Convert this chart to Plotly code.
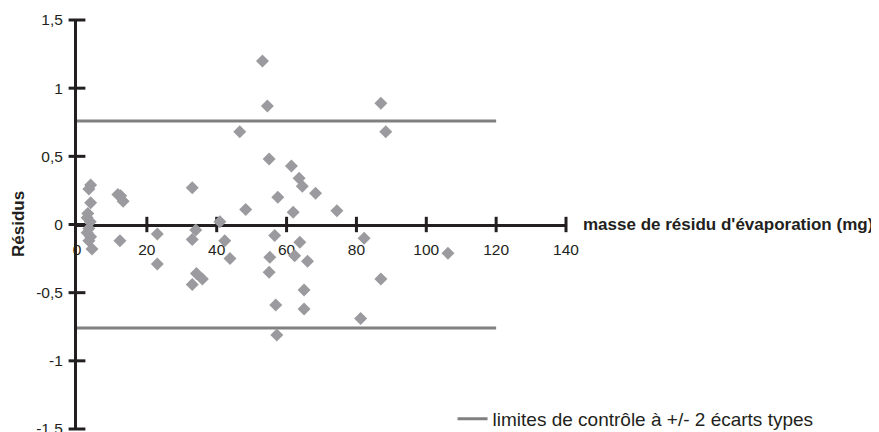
import plotly.graph_objects as go

# ---- data ----
masse = [3.9, 3.4, 3.9, 3.1, 2.9, 3.8, 3.4, 2.9, 3.9, 3.4, 4.3,
         11.7, 12.5, 13.2, 12.3,
         23.0, 23.0,
         33.0, 34.0, 33.0, 40.9, 42.3, 43.8, 34.2, 35.9, 33.0,
         46.6, 48.3,
         53.1, 54.5, 55.0, 57.5, 61.4, 63.6, 64.5, 68.3, 61.9, 74.4,
         56.6, 63.8, 55.2, 62.3, 66.0, 55.0, 65.0, 56.9, 65.0, 57.2,
         81.2, 82.2, 87.0, 87.0, 88.4, 106.2]
residus = [0.29, 0.26, 0.16, 0.08, 0.05, 0.02, -0.03, -0.06, -0.09, -0.12, -0.18,
           0.22, 0.21, 0.17, -0.12,
           -0.07, -0.29,
           0.27, -0.04, -0.11, 0.02, -0.12, -0.25, -0.36, -0.40, -0.44,
           0.68, 0.11,
           1.20, 0.87, 0.48, 0.20, 0.43, 0.34, 0.28, 0.23, 0.09, 0.10,
           -0.08, -0.13, -0.24, -0.23, -0.27, -0.35, -0.48, -0.59, -0.62, -0.81,
           -0.69, -0.10, -0.40, 0.89, 0.68, -0.21]

limite = 0.76
limite_x = [0, 120]

x_ticks = [0, 20, 40, 60, 80, 100, 120, 140]
x_ticklabels = ["0", "20", "40", "60", "80", "100", "120", "140"]
y_ticks = [-1.5, -1, -0.5, 0, 0.5, 1, 1.5]
y_ticklabels = ["-1,5", "-1", "-0,5", "0", "0,5", "1", "1,5"]

FONT = "Liberation Sans, Arial, sans-serif"
AXIS = "#231f20"

fig = go.Figure()

# control limits
fig.add_trace(go.Scatter(
    x=limite_x + [None] + limite_x,
    y=[limite, limite, None, -limite, -limite],
    mode="lines",
    line=dict(color="#808080", width=3),
    name="limites de contrôle à +/- 2 écarts types",
    showlegend=True,
    hoverinfo="skip",
))

# crossing tick marks
fig.add_trace(go.Scatter(
    x=x_ticks[1:], y=[0] * (len(x_ticks) - 1), mode="markers",
    marker=dict(symbol="line-ns", size=11, line=dict(width=3, color=AXIS)),
    showlegend=False, hoverinfo="skip", cliponaxis=False,
))
fig.add_trace(go.Scatter(
    x=[0] * len(y_ticks), y=y_ticks, mode="markers",
    marker=dict(symbol="line-ew", size=12, line=dict(width=3, color=AXIS)),
    showlegend=False, hoverinfo="skip", cliponaxis=False,
))

# residuals
fig.add_trace(go.Scatter(
    x=masse, y=residus, mode="markers",
    marker=dict(symbol="diamond", size=10, color="#9b9b9f"),
    showlegend=False, cliponaxis=False,
))

fig.update_layout(
    width=879, height=432,
    margin=dict(l=68.5, r=321, t=12.1, b=10.7, autoexpand=False),
    paper_bgcolor="white", plot_bgcolor="white",
    font=dict(family=FONT, size=15.5, color="#231f20"),
    showlegend=True,
    legend=dict(
        x=0.768, y=0.025, xanchor="left", yanchor="middle",
        bgcolor="rgba(0,0,0,0)", font=dict(size=19),
        itemwidth=30,
    ),
    xaxis=dict(
        range=[0, 140], anchor="free", position=0.5,
        showline=True, linewidth=3, linecolor=AXIS,
        showgrid=False, zeroline=False, ticks="",
        tickvals=x_ticks, ticktext=x_ticklabels,
        ticklabelstandoff=10, automargin=False,
        layer="below traces",
    ),
    yaxis=dict(
        range=[-1.5, 1.5],
        showline=True, linewidth=3, linecolor=AXIS,
        showgrid=False, zeroline=False, ticks="",
        tickvals=y_ticks, ticktext=y_ticklabels,
        ticklabelstandoff=8, automargin=False,
        layer="below traces",
    ),
    annotations=[
        dict(text="<b>masse de résidu d'évaporation (mg)</b>",
             xref="paper", yref="y", x=1, y=0, xanchor="left", yanchor="middle",
             xshift=15, showarrow=False, font=dict(size=17)),
        dict(text="<b>Résidus</b>", textangle=-90,
             xref="paper", yref="y", x=0, y=0, xanchor="center", yanchor="middle",
             xshift=-58.5, showarrow=False, font=dict(size=17)),
    ],
)

fig.write_html("out.html")
